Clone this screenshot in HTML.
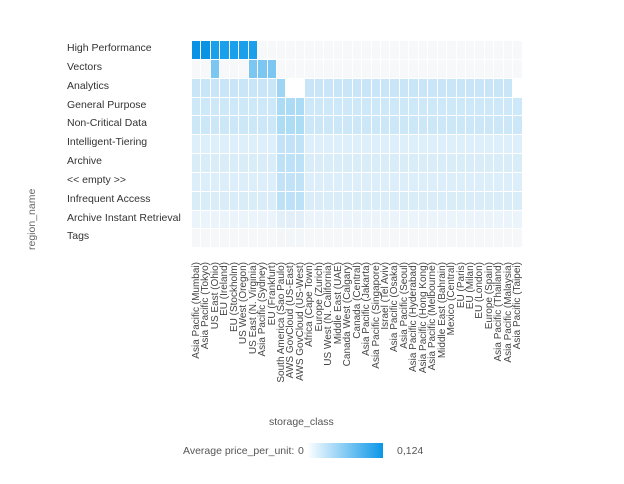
<!DOCTYPE html>
<html><head><meta charset="utf-8"><style>
body{margin:0;width:624px;height:484px;background:#fff;font-family:"Liberation Sans",sans-serif;color:#333;position:relative;overflow:hidden}
.t{position:absolute;font-size:10.5px;white-space:nowrap}
.c{position:absolute}
.xl{position:absolute;font-size:10px;color:#444;transform-origin:0 0;transform:rotate(-90deg);white-space:nowrap;text-align:right;width:200px}
</style></head><body>
<div id="g"></div>
<div class="t" style="left:183px;top:445px;color:#555">Average price_per_unit:</div>
<div class="t" style="left:298px;top:445px;color:#555">0</div>
<div class="c" style="left:307px;top:443px;width:76px;height:15px;background:linear-gradient(to right,#fff,#0a96e8)"></div>
<div class="t" style="left:397px;top:445px;color:#555">0,124</div>
<div class="t" style="left:269px;top:416px;color:#555">storage_class</div>
<div class="t" style="left:26px;top:250px;transform:rotate(-90deg);transform-origin:0 0;color:#666">region_name</div>
<script>
var rows=["High Performance","Vectors","Analytics","General Purpose","Non-Critical Data","Intelligent-Tiering","Archive","<< empty >>","Infrequent Access","Archive Instant Retrieval","Tags"];
var cols=["Asia Pacific (Mumbai)","Asia Pacific (Tokyo)","US East (Ohio)","EU (Ireland)","EU (Stockholm)","US West (Oregon)","US East (N. Virginia)","Asia Pacific (Sydney)","EU (Frankfurt)","South America (Sao Paulo)","AWS GovCloud (US-East)","AWS GovCloud (US-West)","Africa (Cape Town)","Europe (Zurich)","US West (N. California)","Middle East (UAE)","Canada West (Calgary)","Canada (Central)","Asia Pacific (Jakarta)","Asia Pacific (Singapore)","Israel (Tel Aviv)","Asia Pacific (Osaka)","Asia Pacific (Seoul)","Asia Pacific (Hyderabad)","Asia Pacific (Hong Kong)","Asia Pacific (Melbourne)","Middle East (Bahrain)","Mexico (Central)","EU (Paris)","EU (Milan)","EU (London)","Europe (Spain)","Asia Pacific (Thailand)","Asia Pacific (Malaysia)","Asia Pacific (Taipei)"];
var x0=192,y0=41,cw=330.7/35,rh=207.3/11,h="";
var E="#f7f8fa";
var base=["","","#c8e6f8","#cde8f8","#cbe7f8","#ddeffa","#d9edf9","#dbeefa","#d9edf9","#ebf4fa","#f5f7f9"];
var gov=["","","","#acdcf5","#addcf5","#c2e3f7","#bde1f6","#c2e3f7","#bde1f6","#e2eff9","#f3f6f8"];
for(var r=0;r<11;r++){
 h+='<div class="t" style="left:67px;top:'+(y0+r*rh+1)+'px">'+rows[r].replace(/</g,"&lt;").replace(/>/g,"&gt;")+'</div>';
 for(var c=0;c<35;c++){
  var col=base[r];
  if(r==0)col=c<7?(c<2?"#0a92e4":"#1aa0ea"):E;
  else if(r==1)col=(c==2||(c>=6&&c<=8))?"#7cc6f2":E;
  else if(r==2){if(c==9)col="#9fd4f4";else if(c==10||c==11||c==34)col="#fff";}
  else if(c>=9&&c<=11)col=gov[r];
  h+='<div class="c" style="left:'+(x0+c*cw)+'px;top:'+(y0+r*rh)+'px;width:'+(cw-1)+'px;height:'+(rh-1)+'px;background:'+col+'"></div>';
 }
}
for(var c=0;c<35;c++){
 h+='<div class="xl" style="left:'+(x0+c*cw-1)+'px;top:'+(262+200)+'px">'+cols[c]+'</div>';
}
document.getElementById("g").innerHTML=h;
</script>
</body></html>
